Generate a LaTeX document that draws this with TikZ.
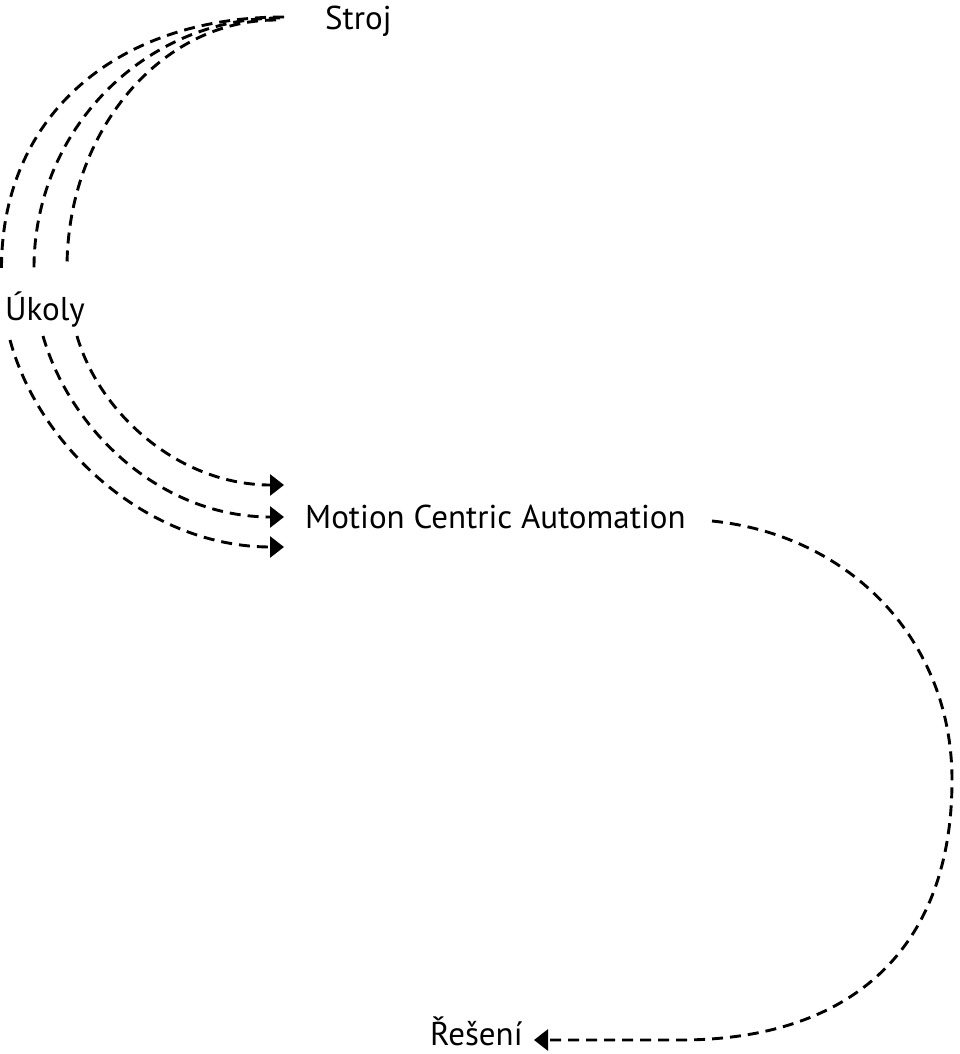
\documentclass[tikz,border=0pt]{standalone}
\usepackage{fontspec}
\setmainfont{PT Sans}
\usetikzlibrary{arrows.meta}
\begin{document}
\begin{tikzpicture}[x=1pt,y=-1pt,
  lbl/.style={inner sep=0pt,anchor=base west,font=\fontsize{33}{38}\selectfont},
  dline/.style={line width=2.9pt,dash pattern=on 11pt off 7pt},
  tip/.style={-{Triangle[length=14pt,width=21pt]}}]
\useasboundingbox (0,0) rectangle (960,1054);
\node[lbl] (Stroj) at (325,30) {Stroj};
\node[lbl] (Ukoly) at (5,320) {Úkoly};
\node[lbl] (MCA) at (305,528) {Motion Centric Automation};
\node[lbl] (Res) at (430,1045) {Řešení};
% top arcs ends
\coordinate (s1) at (284,17);
\coordinate (s2) at (280,18);
\coordinate (s3) at (276,20);
\coordinate (u1) at (1.5,268);
\coordinate (u2) at (34,268);
\coordinate (u3) at (67,268);
\draw[dline] (s1) .. controls (114,17) and (1.5,118) .. (u1);
\draw[dline] (s2) .. controls (144,18) and (34,130) .. (u2);
\draw[dline] (s3) .. controls (161,20) and (67,131) .. (u3);
% bottom arcs
\coordinate (b1) at (10,340);
\coordinate (b2) at (43,336);
\coordinate (b3) at (77,336);
\coordinate (a1) at (284,547);
\coordinate (a2) at (284,517);
\coordinate (a3) at (284,485);
\draw[dline,tip] (b1) .. controls (40,450) and (150,547) .. (a1);
\draw[dline,tip] (b2) .. controls (70,430) and (160,517) .. (a2);
\draw[dline,tip] (b3) .. controls (100,415) and (180,485) .. (a3);
% right loop
\coordinate (r0) at (712,521);
\coordinate (r1) at (952,780);
\coordinate (r2) at (680,1040);
\coordinate (re) at (534,1040);
\draw[dline,tip] (r0) .. controls (850,535) and (952,640) .. (r1)
  .. controls (952,950) and (850,1040) .. (r2) -- (re);
\end{tikzpicture}
\end{document}
